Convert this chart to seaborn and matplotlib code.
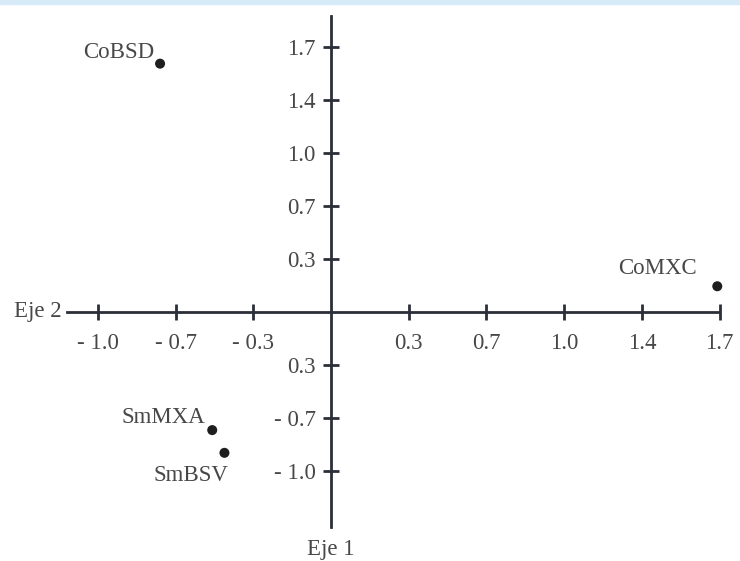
import matplotlib
matplotlib.use("Agg")
import matplotlib.pyplot as plt
import seaborn as sns
import pandas as pd
from matplotlib.patches import Rectangle

# ---- data ----
names = ["CoBSD", "CoMXC", "SmMXA", "SmBSV"]
eje2 = [-0.77, 1.74, -0.535, -0.48]     # horizontal axis
eje1 = [1.64, 0.17, -0.78, -0.93]       # vertical axis

x_ticks = [-1.05, -0.70, -0.35, 0.35, 0.70, 1.05, 1.40, 1.75]
x_labels = ["- 1.0", "- 0.7", "- 0.3", "0.3", "0.7", "1.0", "1.4", "1.7"]
y_ticks = [1.75, 1.40, 1.05, 0.70, 0.35, -0.35, -0.70, -1.05]
y_labels = ["1.7", "1.4", "1.0", "0.7", "0.3", "0.3", "- 0.7", "- 1.0"]

label_offsets = {"CoBSD": (-6, 11, "right"), "CoMXC": (-21, 18, "right"),
                 "SmMXA": (-7, 13, "right"), "SmBSV": (4, -23, "right")}

df = pd.DataFrame({"name": names, "x": eje2, "y": eje1})

sns.set_theme(style="white")
plt.rcParams["font.family"] = ["Liberation Serif", "DejaVu Serif"]

TXT = "#474747"
LINE = "#2b2f38"
FS = 16.5

fig = plt.figure(figsize=(7.4, 5.61), dpi=100)
ax = fig.add_axes([0, 0, 1, 1])
ax.patch.set_alpha(0)

# pixel mapping: origin at (331, 312); 77.7 px per 0.35 in x, 53 px per 0.35 in y
sx = 0.35 / 77.7
sy = 0.35 / 53.0
ax.set_xlim((0 - 331) * sx, (740 - 331) * sx)
ax.set_ylim((312 - 561) * sy, (312 - 0) * sy)

sns.scatterplot(data=df, x="x", y="y", ax=ax, color="#1e1e1e", s=52,
                edgecolor="none", legend=False, zorder=5)

for n, xv, yv in zip(names, eje2, eje1):
    dx, dy, ha = label_offsets[n]
    ax.annotate(n, (xv, yv), xytext=(dx, dy), textcoords="offset pixels",
                ha=ha, va="center", fontsize=FS, color=TXT)

for s in ["top", "right"]:
    ax.spines[s].set_visible(False)
ax.spines["left"].set_position(("data", 0))
ax.spines["bottom"].set_position(("data", 0))
ax.spines["left"].set_bounds((312 - 527) * sy, (312 - 16) * sy)
ax.spines["bottom"].set_bounds((67 - 331) * sx, (719 - 331) * sx)
for s in ["left", "bottom"]:
    ax.spines[s].set_color(LINE)
    ax.spines[s].set_linewidth(2.0)

ax.set_xticks(x_ticks)
ax.set_xticklabels(x_labels)
ax.set_yticks(y_ticks)
ax.set_yticklabels(y_labels)
ax.tick_params(axis="both", direction="inout", length=12, width=2.0,
               color=LINE, labelcolor=TXT, labelsize=FS,
               bottom=True, left=True, top=False, right=False)
ax.tick_params(axis="x", pad=9)
ax.tick_params(axis="y", pad=5)
ax.set_xlabel("")
ax.set_ylabel("")

fig.text(62 / 740, 1 - 312 / 561, "Eje 2", ha="right", va="center",
         fontsize=FS, color=TXT)
fig.text(331 / 740, 1 - 549 / 561, "Eje 1", ha="center", va="center",
         fontsize=FS, color=TXT)

# faint scan border at top
fig.patches.append(Rectangle((0, 1 - 4 / 561), 1, 4 / 561, transform=fig.transFigure,
                             color="#d6eaf7", zorder=0))

fig.savefig("out.png", dpi=100)
